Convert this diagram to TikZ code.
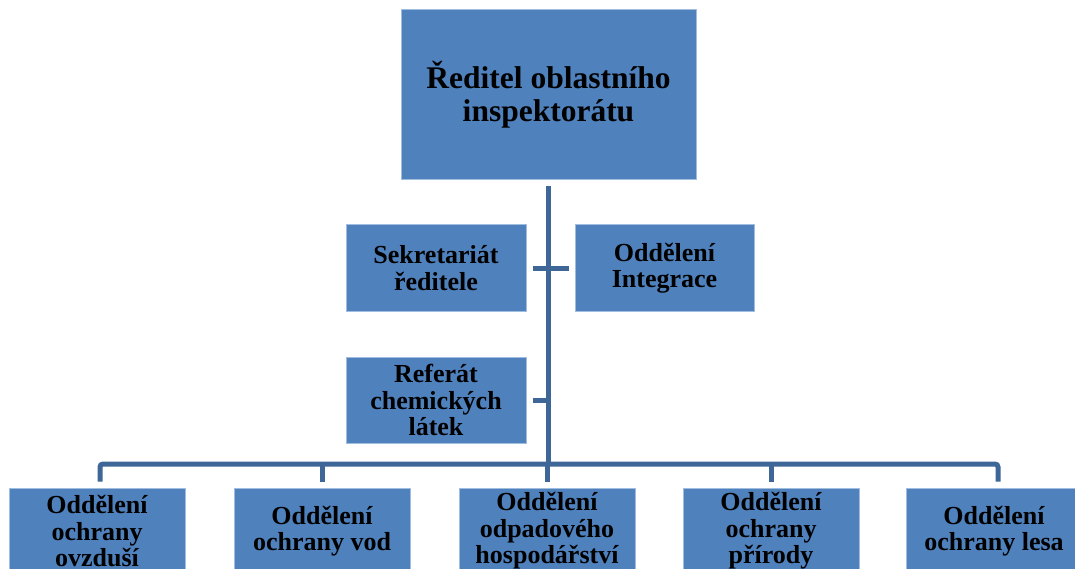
\documentclass[tikz,border=0pt]{standalone}
\usepackage{fontspec}
\setmainfont{Liberation Serif}
\definecolor{boxblue}{HTML}{4F81BD}
\definecolor{boxedge}{RGB}{160,188,222}
\definecolor{linkblue}{RGB}{62,102,150}
\begin{document}
\begin{tikzpicture}[x=1pt,y=-1pt,
    box/.style={draw=boxedge,line width=1pt,fill=boxblue,align=center,inner sep=0pt,
        minimum width=176pt,minimum height=86pt,font=\fontsize{26}{26.5}\selectfont\bfseries},
    conn/.style={draw=linkblue,line width=5pt}]
        \clip (0,0) rectangle (1075,569);
        \node[box,minimum width=295pt,minimum height=170pt,
            font=\fontsize{31.5}{33}\selectfont\bfseries] (R) at (548.5,95) {Ředitel oblastního\\inspektorátu};
        \node[box,minimum width=180pt] (S) at (436,268) {Sekretariát\\ředitele};
        \node[box,minimum width=179pt] (I) at (664.5,268) {Oddělení\\Integrace};
        \node[box,minimum width=180pt] (C) at (436,400) {Referát\\chemických\\látek};
        \node[box] (O1) at (97,531) {Oddělení\\ochrany\\ovzduší};
        \node[box] (O2) at (322,531) {Oddělení\\ochrany vod};
        \node[box] (O3) at (547,531) {Oddělení\\odpadového\\hospodářství};
        \node[box] (O4) at (771,531) {Oddělení\\ochrany\\přírody};
        \node[box] (O5) at (994,531) {Oddělení\\ochrany lesa};
        \coordinate (bus) at (548,464);
        \draw[conn] ([yshift=-6pt]R.south) -- (R.south |- bus);
        \draw[conn,shorten <=6pt,shorten >=6pt] (S.east) -- (I.west);
        \draw[conn,shorten <=6pt] (C.east) -- (C.east -| R.south);
        \draw[conn,rounded corners=3pt] ([xshift=3pt,yshift=6pt]O1.north) |- (bus) -| ([xshift=4pt,yshift=6pt]O5.north);
        \draw[conn] ([yshift=6pt]O2.north) -- (O2.north |- bus);
        \draw[conn] ([yshift=6pt]O3.north) -- (O3.north |- bus);
        \draw[conn] ([yshift=6pt]O4.north) -- (O4.north |- bus);
    \end{tikzpicture}
\end{document}
